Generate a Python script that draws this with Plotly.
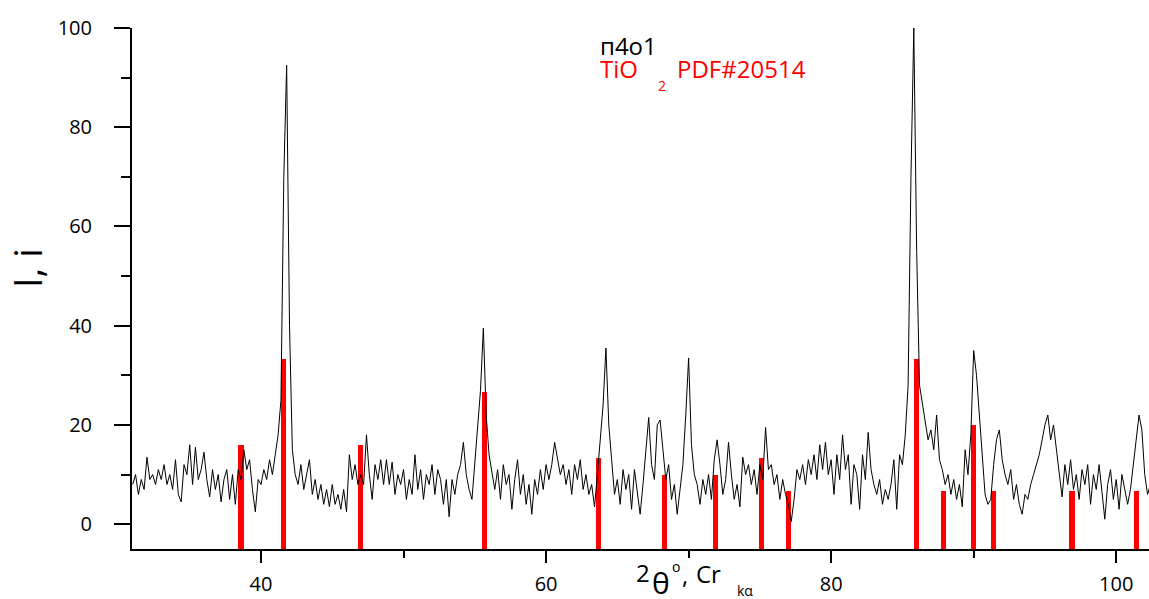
import plotly.graph_objects as go

# XRD scan: 2-theta start / step and intensities
two_theta_start = 31.0
two_theta_step = 0.2
intensity = [
    8, 10, 6, 9, 7, 13.5, 9, 10, 8, 11,
    9, 12, 8, 10, 7, 13, 6, 4.5, 12, 10,
    16, 8, 15.5, 9, 11, 14.5, 9, 5.5, 11, 7,
    10, 4.5, 9, 11, 5, 10, 4, 11, 9, 15,
    11, 13, 7, 2.5, 9, 8, 11, 9, 13, 10,
    14, 18, 25, 70, 92.5, 40, 15, 10, 8, 12,
    7, 10, 13, 6, 9, 5, 8, 4, 7, 3.5,
    8, 4, 6, 3, 7, 2.5, 14, 9, 12, 8,
    10, 8, 18, 10, 5, 12, 9, 13, 8, 13,
    8, 12.5, 6, 10, 8, 11, 5, 9, 6, 14,
    7, 11, 5, 10, 8, 12, 6, 11, 9, 4,
    9, 1.5, 9, 6, 10, 12, 16.5, 10, 7, 5,
    13, 20, 27, 39.5, 22, 14, 10, 7, 11, 5,
    12, 8, 10, 3, 9, 13, 6, 10, 4, 8,
    2, 9, 6, 11, 7, 12, 9, 12, 16.5, 13,
    10, 12, 8, 11, 6, 12, 9, 13, 7, 10,
    6, 8, 3.5, 10, 17, 24, 35.5, 20, 13, 6,
    9, 4, 11, 7, 10, 3, 11, 6, 2, 8,
    14, 21.5, 12, 9, 20, 21, 15, 9, 12, 5,
    8, 2, 7, 12, 22, 33.5, 16, 10, 8, 4,
    9, 6, 10, 5, 13, 17, 12, 6, 9, 16.5,
    10, 5, 8, 3.5, 13.5, 10, 12, 8, 11, 6,
    12, 9, 19.5, 11, 12, 8, 10, 5, 9, 6,
    4, 0.5, 5, 11, 9, 12, 8, 13, 10, 14,
    9, 16, 11, 16.5, 10, 13, 6, 14, 9, 18,
    11, 14, 4, 12, 10, 3, 14, 9, 18.5, 11,
    8, 6, 9, 4, 7, 5, 8, 13, 3, 14,
    12, 18, 28, 70, 100, 55, 28, 24, 20, 17,
    19, 15, 22, 13, 11, 8, 10, 6, 9, 5,
    8, 3.5, 15, 10, 18, 35, 30, 22, 12, 6,
    4, 5, 12, 17, 19, 13, 10, 8, 11, 5,
    8, 4, 2, 6, 5, 8, 10, 12, 14, 17,
    20, 22, 17, 20, 15, 10, 5.5, 12, 8, 13,
    7, 10, 5, 11, 8, 12, 4, 10, 7, 12,
    6, 1, 8, 11, 5, 9, 3, 10, 7, 4,
    7, 12, 16, 22, 19, 10, 6, 8,
]
two_theta = [two_theta_start + i * two_theta_step for i in range(len(intensity))]

# TiO2 PDF#20514 reference lines
pdf_positions = [38.6, 41.6, 47.0, 55.7, 63.7, 68.3, 71.9, 75.1, 77.0,
                 86.0, 87.9, 90.0, 91.4, 96.9, 101.4]
pdf_heights = [16, 33.3, 16, 26.7, 13.3, 10, 10, 13.3, 6.7,
               33.3, 6.7, 20, 6.7, 6.7, 6.7]

x_ticks = [40, 60, 80, 100]
y_ticks = [0, 20, 40, 60, 80, 100]

y_floor = -5
x_range = [30.95, 102.3]

FONT = "Open Sans"

fig = go.Figure()
fig.add_trace(go.Bar(
    x=pdf_positions,
    y=[h - y_floor for h in pdf_heights],
    base=y_floor,
    width=0.36,
    marker=dict(color="#ff0000", line=dict(width=0)),
    showlegend=False,
))
fig.add_trace(go.Scatter(
    x=two_theta, y=intensity, mode="lines",
    line=dict(color="black", width=1),
    showlegend=False,
))

axis_common = dict(
    showgrid=False, zeroline=False, showline=True, linecolor="black",
    linewidth=2, ticks="outside", tickcolor="black", tickwidth=2,
    tickfont=dict(family=FONT, size=20, color="black"),
    automargin=False,
)
fig.update_xaxes(
    range=x_range, tickvals=x_ticks, ticktext=[str(v) for v in x_ticks],
    ticklen=12, ticklabelstandoff=4,
    minor=dict(tickvals=[50, 70, 90], ticklen=7, tickwidth=2, tickcolor="black", ticks="outside"),
    **axis_common,
)
fig.update_yaxes(
    range=[y_floor, 100], tickvals=y_ticks, ticktext=[str(v) for v in y_ticks],
    ticklen=16, ticklabelstandoff=18,
    minor=dict(tickvals=[10, 30, 50, 70, 90], ticklen=9, tickwidth=2, tickcolor="black", ticks="outside"),
    **axis_common,
)

L, R, T, B = 132, 0, 28, 50
W, H = 1149, 599
pw, ph = W - L - R, H - T - B


def px(xp):
    return (xp - L) / pw


def py(yp):
    return (H - B - yp) / ph


def ann(text, xl, yc, size, color="black", angle=0, xanchor="left"):
    fig.add_annotation(
        text=text, xref="paper", yref="paper", x=px(xl), y=py(yc),
        xanchor=xanchor, yanchor="middle", showarrow=False, textangle=angle,
        font=dict(family=FONT, size=size, color=color),
    )


# x-axis title: 2 θ°, Cr kα
ann("2", 634, 572, 24)
ann("θ", 650, 582, 30)
ann("o", 670, 566, 14)
ann(",", 680, 574, 24)
ann("Cr", 694, 573, 24)
ann("kα", 735, 590, 14)

# y-axis title
ann("I, i", 27, 268, 38, angle=-90, xanchor="center")

# legend texts
ann("п4о1", 598, 46, 24)
ann("TiO", 598, 69, 24, color="#ff0000")
ann("2", 656, 85, 14, color="#ff0000")
ann("PDF#20514", 675, 69, 24, color="#ff0000")

fig.update_layout(
    width=W, height=H,
    margin=dict(l=L, r=R, t=T, b=B, autoexpand=False),
    paper_bgcolor="white", plot_bgcolor="white",
    bargap=0, showlegend=False,
)

fig.write_html(
    "out.html",
    config={"displayModeBar": False},
    post_script="document.body.style.margin='0';document.body.style.overflow='hidden';",
)
